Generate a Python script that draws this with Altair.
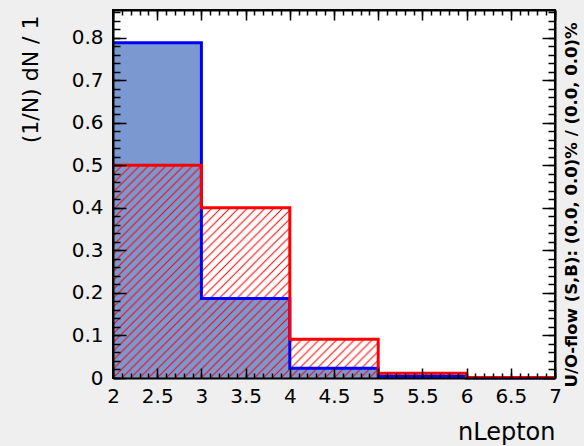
import base64
import altair as alt
import pandas as pd

# ---- data ----
bin_lo = [2, 3, 4, 5, 6]
bin_hi = [3, 4, 5, 6, 7]
signal = [0.788, 0.187, 0.023, 0.004, 0.0]
background = [0.500, 0.400, 0.091, 0.011, 0.001]

x_label_values = [2, 2.5, 3, 3.5, 4, 4.5, 5, 5.5, 6, 6.5, 7]
y_label_values = [0, 0.1, 0.2, 0.3, 0.4, 0.5, 0.6, 0.7, 0.8]
x_minor_values = [round(2 + 0.1 * i, 1) for i in range(51)]
y_minor_values = [round(0.02 * i, 2) for i in range(44)]

x_title = "nLepton"
y_title = "(1/N) dN / 1"
side_text = "U/O-flow (S,B): (0.0, 0.0)% / (0.0, 0.0)%"

# ---- layout / style ----
W, H = 442, 368
FONT = "DejaVu Sans"
SIG_FILL = "#7b98d0"
SIG_LINE = "#0000ff"
BKG_LINE = "#ff0000"
BG = "#efefef"

bins = pd.DataFrame({"lo": bin_lo, "hi": bin_hi, "sig": signal, "bkg": background, "base": [0] * len(bin_lo)})
steps = pd.DataFrame({
    "x": bin_lo + [bin_hi[-1]],
    "sig": signal + [signal[-1]],
    "bkg": background + [background[-1]],
    "base": [0] * (len(bin_lo) + 1),
})

xs = alt.Scale(domain=[2, 7], nice=False, zero=False)
ys = alt.Scale(domain=[0, 0.865], nice=False, zero=False)

# hatch pattern anchored at each bin's bottom-left corner, spacing = bin width / 10
S = W / 5 / 10
hatch_svg = (
    '<svg xmlns="http://www.w3.org/2000/svg" width="100%" height="100%">'
    f'<defs><pattern id="h" width="{S}" height="{S}" patternUnits="userSpaceOnUse">'
    f'<path d="M0,{S} L{S},0 M-2,2 L2,-2 M{S-2},{S+2} L{S+2},{S-2}" stroke="#ff0000" stroke-width="1"/>'
    '</pattern></defs>'
    '<svg x="0" y="100%" overflow="visible">'
    f'<rect x="0" y="{-S*300}" width="100%" height="{S*300}" fill="url(#h)"/>'
    '</svg></svg>'
)
hatch_url = "data:image/svg+xml;base64," + base64.b64encode(hatch_svg.encode()).decode()

base = alt.Chart(bins)

main_x_axis = alt.Axis(
    values=x_label_values, format="~g", labelFont=FONT, labelFontSize=20, labelColor="black",
    ticks=False, tickSize=0, domain=False, grid=False, labelPadding=8, labelFlush=False,
    labelOverlap=False, title=x_title, titleFont=FONT, titleFontSize=24, titleFontWeight="normal",
    titleColor="black", titleX=W, titleY=61, titleAlign="right", titleBaseline="alphabetic",
)
main_y_axis = alt.Axis(
    values=y_label_values, format="~g", labelFont=FONT, labelFontSize=20, labelColor="black",
    ticks=False, tickSize=0, domain=False, grid=False, labelPadding=10, labelFlush=False,
    labelOverlap=False, title=y_title, titleFont=FONT, titleFontSize=22, titleFontWeight="normal",
    titleColor="black", titleAngle=270, titleX=-71, titleY=5, titleAlign="right", titleBaseline="bottom",
)

sig_fill = alt.Chart(steps).mark_area(interpolate="step-after", color=SIG_FILL, opacity=1).encode(
    x=alt.X("x:Q", scale=xs, axis=main_x_axis),
    y=alt.Y("sig:Q", scale=ys, axis=main_y_axis),
    y2="base:Q",
)

bkg_hatch = base.mark_image(aspect=False).encode(
    x=alt.X("lo:Q", scale=xs, axis=None),
    x2="hi:Q",
    y=alt.Y("bkg:Q", scale=ys, axis=None),
    y2="base:Q",
    url=alt.value(hatch_url),
)

sig_line = alt.Chart(steps).mark_line(interpolate="step-after", color=SIG_LINE, strokeWidth=3).encode(
    x=alt.X("x:Q", scale=xs, axis=None),
    y=alt.Y("sig:Q", scale=ys, axis=None),
)
bkg_line = alt.Chart(steps).mark_line(interpolate="step-after", color=BKG_LINE, strokeWidth=3).encode(
    x=alt.X("x:Q", scale=xs, axis=None),
    y=alt.Y("bkg:Q", scale=ys, axis=None),
)


def tick_axis(orient, offset, values, size, domain):
    return alt.Axis(
        orient=orient, offset=offset, values=values, tickSize=size, labels=False, title="",
        domain=domain, domainColor="black", domainWidth=2, tickColor="black", tickWidth=1.5,
        grid=False, zindex=2,
    )


tick_layers = []
for orient in ["top", "bottom"]:
    for vals, size, dom in [(x_minor_values, 5, False), (x_label_values, 10, True)]:
        tick_layers.append(
            base.mark_point(opacity=0).encode(
                x=alt.X("lo:Q", scale=xs, axis=tick_axis(orient, -H, vals, size, dom)),
                y=alt.Y("sig:Q", scale=ys, axis=None),
            )
        )
for orient in ["right", "left"]:
    for vals, size, dom in [(y_minor_values, 7, False), (y_label_values, 13, True)]:
        tick_layers.append(
            base.mark_point(opacity=0).encode(
                x=alt.X("lo:Q", scale=xs, axis=None),
                y=alt.Y("sig:Q", scale=ys, axis=tick_axis(orient, -W, vals, size, dom)),
            )
        )

side = alt.Chart(pd.DataFrame({"t": [side_text]})).mark_text(
    angle=270, font=FONT, fontWeight="bold", fontSize=16.5, align="center", baseline="middle", color="black"
).encode(
    x=alt.value(W + 17),
    y=alt.value(195),
    text="t:N",
)

chart = alt.layer(
    sig_fill, bkg_hatch, sig_line, bkg_line, *tick_layers, side
).resolve_axis(
    x="independent", y="independent"
).properties(
    width=W, height=H,
    padding={"left": 113, "top": 10, "right": 29, "bottom": 68},
    autosize=alt.AutoSizeParams(type="none"),
    background=BG,
).configure_view(
    fill="white", stroke="black", strokeWidth=2,
)

chart.save("out.html", embed_options={"renderer": "svg", "actions": False})
